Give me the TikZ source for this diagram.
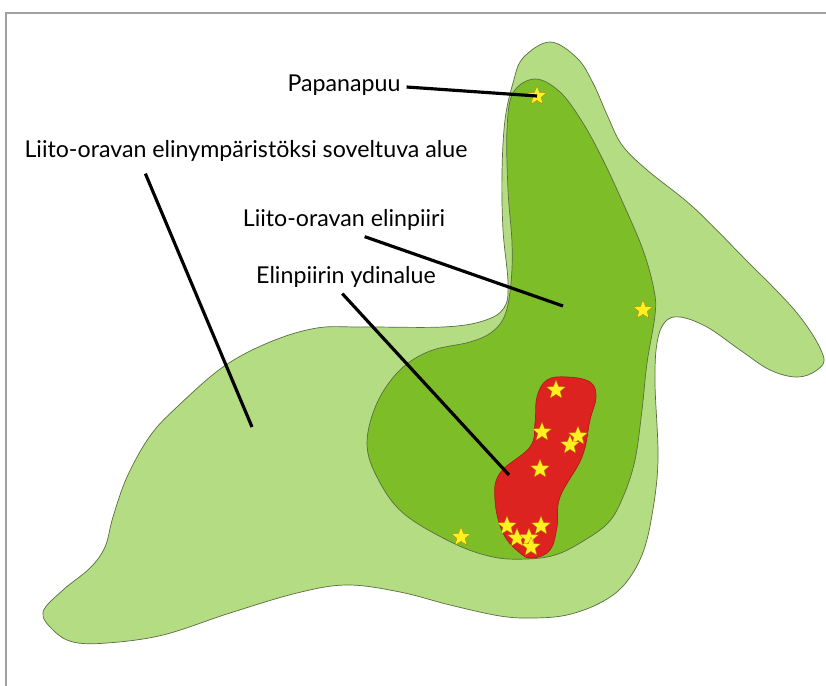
\documentclass[tikz,border=0pt]{standalone}
\usepackage{fontspec}
\setmainfont{Lato}
\usepackage{tikz}
\usetikzlibrary{shapes.geometric,calc}
\definecolor{rangelight}{HTML}{B4DC82}
\definecolor{rangemid}{HTML}{7DBE28}
\definecolor{rangered}{HTML}{DC2320}
\definecolor{staryellow}{HTML}{FFF020}
\definecolor{framegray}{HTML}{A0A0A0}

\begin{document}
\begin{tikzpicture}[
    x=0.02cm, y=-0.02cm,
    area/.style={draw=black!50!rangelight, line width=0.4pt},
    sitestar/.style={star, star points=5, star point ratio=2.3, fill=staryellow, draw=orange!70!black, line width=0.1pt, inner sep=0pt, minimum size=0.4cm},
    leader/.style={line width=1.8pt, black},
    label/.style={font=\fontsize{13.2}{15}\selectfont, inner sep=1pt, text=black},
]
\useasboundingbox (0,0) rectangle (826,686);
\fill[white] (0,0) rectangle (826,686);

% Frame
\draw[framegray, line width=0.7pt] (6,686) -- (6,13) -- (826,13);

% Suitable habitat
\draw[area, fill=rangelight] plot[smooth cycle, tension=0.6] coordinates {
    (550,42) (577,58) (593,83) (608,117) (622,145) (647,170) (693,207) (743,257) (797,313)
    (823,355) (817,370) (797,377) (770,370) (740,350) (707,327) (680,317) (665,322) (657,343)
    (655,383) (658,460) (652,515) (642,555) (624,585) (600,603) (567,615) (533,618) (500,616)
    (450,605) (400,592) (347,585) (297,593) (230,613) (163,635) (107,643) (73,642) (53,630)
    (43,612) (63,590) (90,568) (105,547) (113,517) (127,477) (150,436) (177,407) (223,367)
    (270,342) (317,328) (363,327) (443,327) (483,321) (504,308) (508,283) (503,230) (502,173)
    (505,120) (513,83) (523,58)};

% Home range
\draw[area, fill=rangemid] plot[smooth cycle, tension=0.6] coordinates {
    (535,79) (560,92) (583,123) (603,160) (623,203) (643,250) (654,290) (655,315) (647,363)
    (642,410) (635,460) (623,497) (608,523) (580,543) (555,555) (527,559) (493,557) (453,543)
    (403,513) (377,477) (367,443) (377,403) (400,370) (430,351) (470,342) (492,332) (505,315)
    (511,283) (512,243) (508,190) (507,130) (513,93)};

% Core area
\draw[area, fill=rangered, draw=rangered!80!black] plot[smooth cycle, tension=0.65] coordinates {
    (567,377) (590,382) (596,397) (590,420) (582,457) (560,497) (557,527) (550,550) (533,558)
    (520,553) (503,533) (495,500) (500,473) (530,447) (535,423) (537,397) (547,380)};

% Stars
\foreach \name/\px/\py in {s1/537/96, s2/643/310, s3/556/390, s4/542/432, s5/578/436, s6/570/445,
    s7/540/469, s8/507/526, s9/517/538, s10/541/526, s11/529/538, s12/531/547, s13/461/537} {
    \node[sitestar] (\name) at (\px,\py) {};
}

% Labels
\node[label] (papanapuu) at (344,85) {Papanapuu};
\node[label] (habitat) at (246,151) {Liito-oravan elinympäristöksi soveltuva alue};
\node[label] (homerange) at (344,220) {Liito-oravan elinpiiri};
\node[label] (core) at (346,277) {Elinpiirin ydinalue};

\coordinate (habitatend) at (252,427);
\coordinate (homeend) at (563,306);
\coordinate (coreend) at (509,475);

% Leaders
\draw[leader] (papanapuu.east) ++(4,2) -- (s1.center);
\draw[leader] ($(habitat.south west)!0.275!(habitat.south east)$) ++(0,10) -- (habitatend);
\draw[leader] ($(homerange.south west)!0.6!(homerange.south east)$) ++(0,4) -- (homeend);
\draw[leader] ($(core.south west)!0.48!(core.south east)$) ++(0,4) -- (coreend);
\end{tikzpicture}
\end{document}
